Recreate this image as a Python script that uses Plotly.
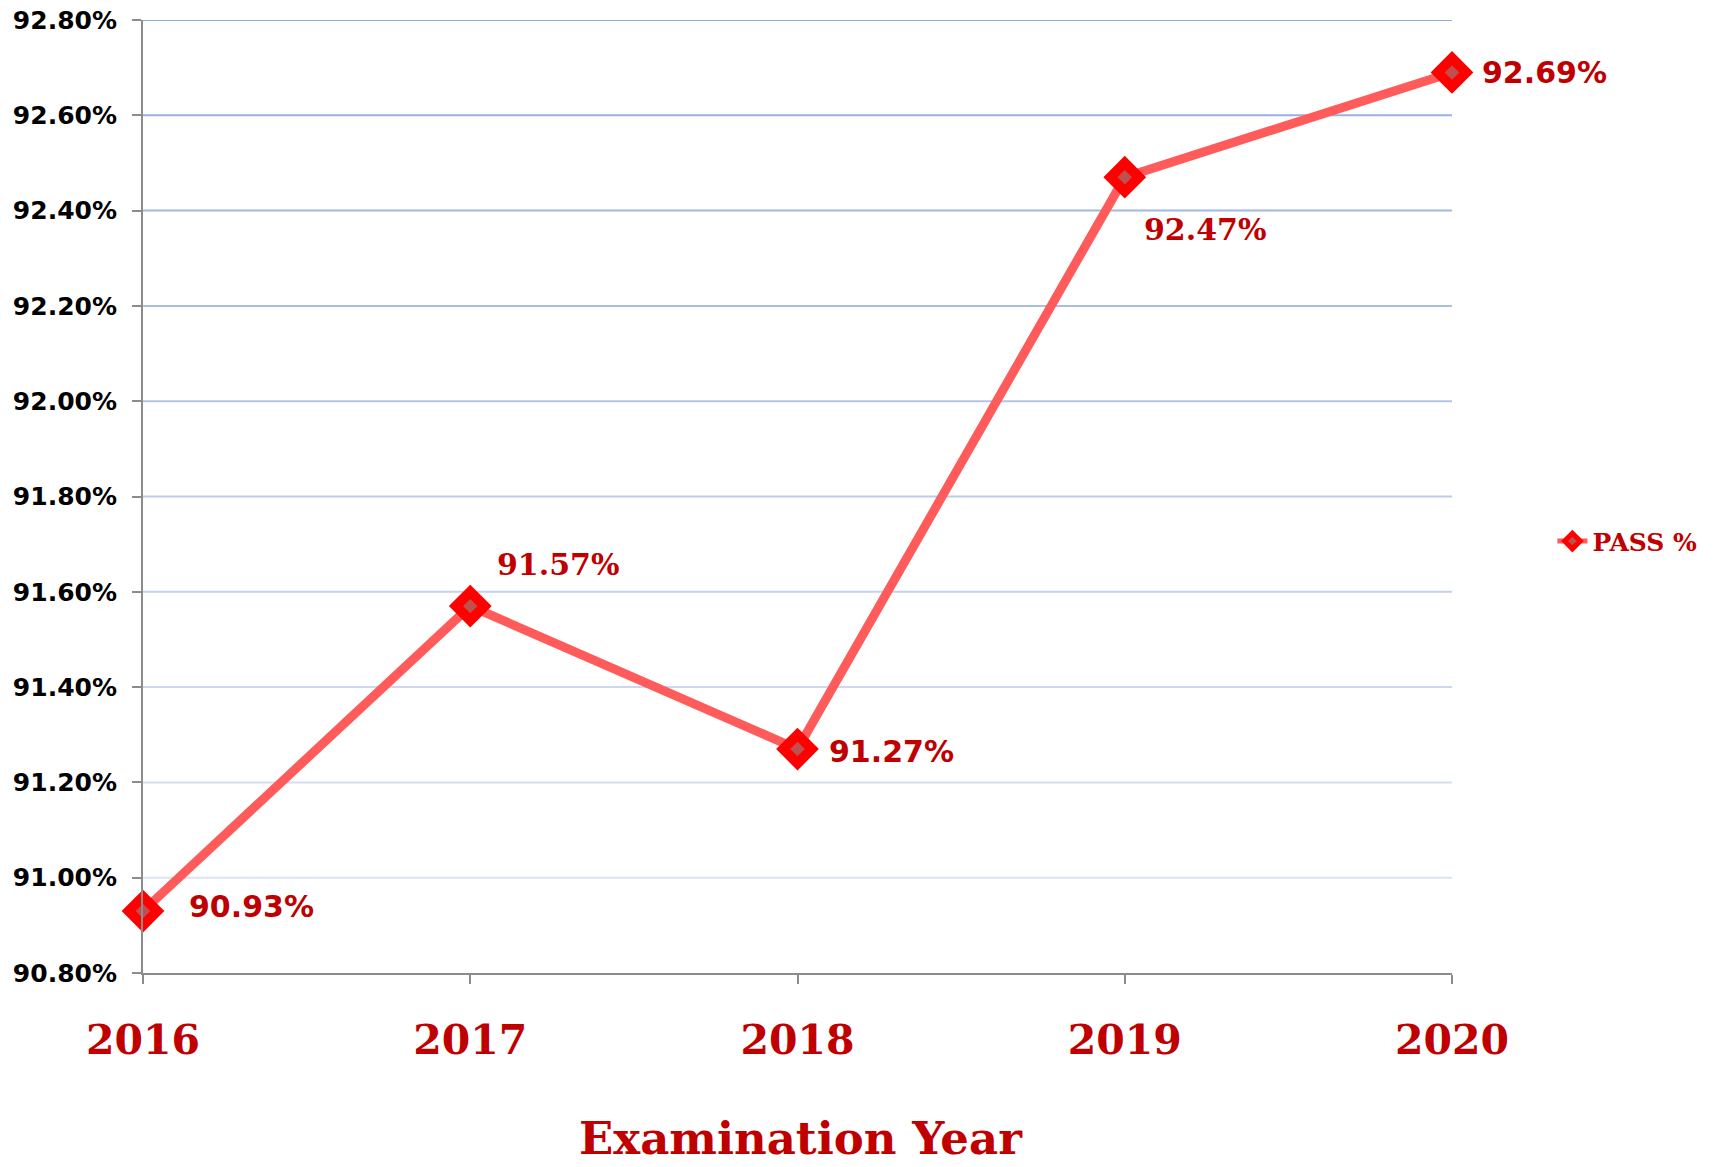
import plotly.graph_objects as go

years = [2016, 2017, 2018, 2019, 2020]
pass_pct = [90.93, 91.57, 91.27, 92.47, 92.69]
y_ticks = [90.80, 91.00, 91.20, 91.40, 91.60, 91.80, 92.00, 92.20, 92.40, 92.60, 92.80]
y_tick_labels = [f"{v:.2f}%" for v in y_ticks]
label_shift_x = [44, 25, 29, 17, 28]
label_shift_y = [5, 42, -2, -52, 0]
label_fonts = ["DejaVu Sans", "DejaVu Serif", "DejaVu Sans", "DejaVu Serif", "DejaVu Sans"]

DARK_RED = "#c00000"

fig = go.Figure()

fig.add_trace(go.Scatter(
    x=years, y=pass_pct, mode="lines+markers", name="PASS %",
    line=dict(color="#ff5b5b", width=9),
    marker=dict(symbol="diamond", size=22, color="#c0504d",
                line=dict(color="#ff0000", width=10)),
    cliponaxis=False, showlegend=False,
))

# legend entry (smaller symbol, as in the reference legend)
fig.add_trace(go.Scatter(
    x=[None], y=[None], mode="lines+markers", name="PASS %",
    line=dict(color="#ff5b5b", width=5),
    marker=dict(symbol="diamond", size=12, color="#c0504d",
                line=dict(color="#ff0000", width=5)),
    showlegend=True,
))

# gridlines with a gentle fade toward the bottom
def mix(c1, c2, t):
    return "#%02x%02x%02x" % tuple(int(round(a + (b - a) * t)) for a, b in zip(c1, c2))

top_c = (145, 172, 222)
bot_c = (220, 228, 242)
n = len(y_ticks)
for i, v in enumerate(y_ticks[1:], start=1):
    t = (n - 1 - i) / (n - 2)
    fig.add_shape(type="line", xref="paper", yref="y", x0=0, x1=1, y0=v, y1=v,
                  line=dict(color=mix(top_c, bot_c, t), width=2), layer="below")

for x, y, dx, dy, fnt in zip(years, pass_pct, label_shift_x, label_shift_y, label_fonts):
    fig.add_annotation(x=x, y=y, xref="x", yref="y", text=f"{y:.2f}%",
                       showarrow=False, xanchor="left", yanchor="middle",
                       xshift=dx, yshift=dy,
                       font=dict(family=fnt, size=30, color=DARK_RED, weight="bold"))

# axis title
fig.add_annotation(x=0.503, y=-0.174, xref="paper", yref="paper",
                   text="Examination Year", showarrow=False,
                   xanchor="center", yanchor="middle",
                   font=dict(family="DejaVu Serif", size=45, color=DARK_RED, weight="bold"))

fig.update_layout(
    width=1716, height=1151,
    paper_bgcolor="white", plot_bgcolor="white",
    margin=dict(l=135, r=272, t=12, b=186),
    showlegend=True,
    legend=dict(x=1.0767, y=0.453, xanchor="left", yanchor="middle",
                font=dict(family="DejaVu Serif", size=25, color=DARK_RED, weight="bold"),
                bgcolor="rgba(0,0,0,0)"),
)

fig.update_xaxes(
    range=[2016, 2020], tickmode="array", tickvals=years,
    ticktext=[str(y) for y in years],
    showgrid=False, zeroline=False,
    showline=True, linecolor="#8c8c8c", linewidth=2,
    ticks="outside", ticklen=9, tickcolor="#8c8c8c", tickwidth=2,
    ticklabelstandoff=21,
    tickfont=dict(family="DejaVu Serif", size=41, color=DARK_RED, weight="bold"),
    automargin=False,
)

fig.update_yaxes(
    range=[90.80, 92.80], tickmode="array", tickvals=y_ticks, ticktext=y_tick_labels,
    showgrid=False, zeroline=False,
    showline=True, linecolor="#8c8c8c", linewidth=2,
    ticks="outside", ticklen=9, tickcolor="#8c8c8c", tickwidth=2,
    ticklabelstandoff=10, ticklabeloverflow="allow",
    tickfont=dict(family="DejaVu Sans", size=25, color="black", weight="bold"),
    automargin=False,
)

fig.write_html("out.html")
